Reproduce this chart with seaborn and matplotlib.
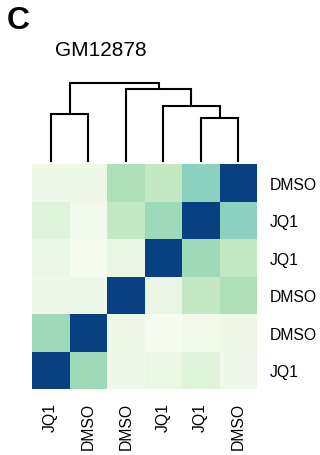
import numpy as np
import pandas as pd
import matplotlib
matplotlib.use("Agg")
import matplotlib.pyplot as plt
import seaborn as sns

plt.rcParams.update({
    "font.family": ["Liberation Sans", "DejaVu Sans"],
    "savefig.facecolor": "white",
})

# sample order along the columns (after clustering)
labels = ["JQ1", "DMSO", "DMSO", "JQ1", "JQ1", "DMSO"]

# similarity matrix in column order (symmetric, diagonal = 1)
sim = np.array([
    [1.00, 0.40, 0.04, 0.07, 0.125, 0.04],
    [0.40, 1.00, 0.05, 0.00, 0.03, 0.05],
    [0.04, 0.05, 1.00, 0.08, 0.28, 0.35],
    [0.07, 0.00, 0.08, 1.00, 0.40, 0.28],
    [0.125, 0.03, 0.28, 0.40, 1.00, 0.46],
    [0.04, 0.05, 0.35, 0.28, 0.46, 1.00],
])

# linkage (scipy style): left node, right node, height
merges = [
    [4, 5, 0.42],
    [0, 1, 0.46],
    [3, 6, 0.54],
    [2, 8, 0.71],
    [7, 9, 0.77],
]

# rows are shown bottom-up
df = pd.DataFrame(sim[::-1], index=labels[::-1], columns=labels)

fig = plt.figure(figsize=(3.2, 4.56), dpi=100)

ax = fig.add_axes([32 / 320, 1 - 390 / 456, 225 / 320, 225 / 456])
sns.heatmap(df, ax=ax, cmap="GnBu", vmin=0, vmax=1, cbar=False,
            square=False, linewidths=0)
ax.yaxis.tick_right()
ax.set_yticklabels(labels[::-1], rotation=0, fontsize=11.3)
ax.set_xticklabels(labels, rotation=90, fontsize=11.3)
ax.tick_params(length=0, pad=9.5)
ax.tick_params(axis="x", pad=9.5)

# dendrogram on top
dax = fig.add_axes([32 / 320, 1 - 162 / 456, 225 / 320, 78 / 456])
n = len(labels)
xpos = {i: i + 0.5 for i in range(n)}
ypos = {i: 0.0 for i in range(n)}
for k, (a, b, h) in enumerate(merges):
    a, b = int(a), int(b)
    dax.plot([xpos[a], xpos[a], xpos[b], xpos[b]],
             [ypos[a], h, h, ypos[b]],
             color="black", lw=1.5, clip_on=False,
             solid_joinstyle="miter")
    xpos[n + k] = (xpos[a] + xpos[b]) / 2
    ypos[n + k] = h
dax.set_xlim(0, n)
dax.set_ylim(0, merges[-1][2])
dax.axis("off")

fig.text(101 / 320, 1 - 51 / 456, "GM12878", fontsize=15,
         ha="center", va="center")
fig.text(7 / 320, 1 - 21 / 456, "C", fontsize=23, fontweight="bold",
         ha="left", va="center")

fig.savefig("out.png", dpi=100)
